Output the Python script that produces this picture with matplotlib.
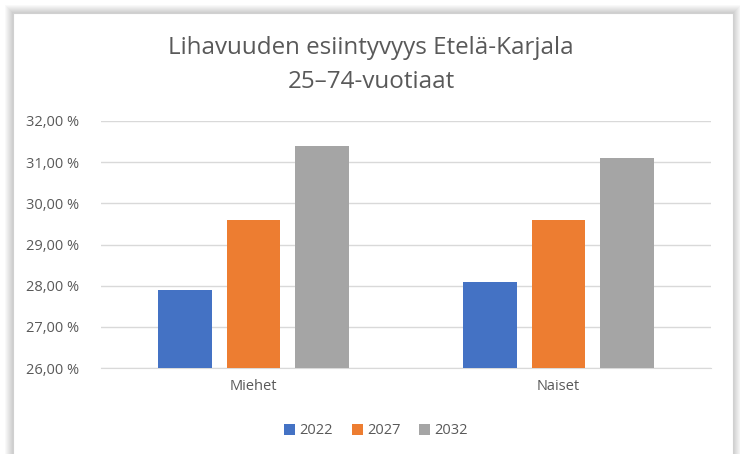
import matplotlib
matplotlib.use("Agg")
import matplotlib.pyplot as plt
import numpy as np
from matplotlib.patches import Rectangle

plt.rcParams['font.family'] = ['Open Sans', 'DejaVu Sans']

categories = ["Miehet", "Naiset"]
series_names = ["2022", "2027", "2032"]
values_2022 = [27.9, 28.1]
values_2027 = [29.6, 29.6]
values_2032 = [31.4, 31.1]
colors = ["#4472C4", "#ED7D31", "#A5A5A5"]
yticks = [26, 27, 28, 29, 30, 31, 32]
ytick_labels = ["26,00 %", "27,00 %", "28,00 %", "29,00 %", "30,00 %", "31,00 %", "32,00 %"]

W, H = 740, 454
fig = plt.figure(figsize=(7.4, 4.54), dpi=100)

# soft shadow around the chart frame
for k in range(8, 0, -1):
    sh = Rectangle(((13 - k) / W, (-10) / H), (720 + 2 * k) / W, (454 - 13 + 10 + k) / H,
                   transform=fig.transFigure, facecolor="#000000", alpha=0.025,
                   edgecolor="none", zorder=-3)
    fig.patches.append(sh)
frame = Rectangle((13 / W, -10 / H), 720 / W, (454 - 13 + 10) / H, transform=fig.transFigure,
                  facecolor="white", edgecolor="#d0d0d0", linewidth=0.8, zorder=-1)
fig.patches.append(frame)

ax = fig.add_axes([101 / W, (454 - 368) / H, (711 - 101) / W, (368 - 121) / H])
ax.set_facecolor("none")
x = np.arange(len(categories))
bw = 0.177
step = 0.223
series = [values_2022, values_2027, values_2032]
for i, (vals, name, c) in enumerate(zip(series, series_names, colors)):
    ax.bar(x + (i - 1) * step, np.array(vals) - 26, bottom=26, width=bw,
           color=c, label=name, zorder=3)

ax.set_ylim(26, 32)
ax.set_xlim(-0.5, 1.5)
ax.set_yticks(yticks)
ax.set_yticklabels(ytick_labels)
ax.set_xticks(x)
ax.set_xticklabels(categories)
ax.grid(axis="y", color="#d9d9d9", linewidth=1, zorder=0)
for s in ["top", "right", "left"]:
    ax.spines[s].set_visible(False)
ax.spines["bottom"].set_color("#d9d9d9")
ax.spines["bottom"].set_zorder(1)
ax.tick_params(axis="y", length=0, labelsize=10.5, labelcolor="#595959", pad=16)
ax.tick_params(axis="x", length=0, labelsize=10.5, labelcolor="#595959", pad=8)

fig.text(371 / W, 1 - 65 / H, "Lihavuuden esiintyvyys Etelä-Karjala\n25–74-vuotiaat",
         ha="center", va="center", fontsize=17.4, color="#595959", linespacing=1.5)

leg = fig.legend(loc="center", bbox_to_anchor=(376 / W, 1 - 431 / H), ncol=3, frameon=False,
                 fontsize=10.5, handlelength=0.75, handleheight=0.75, handletextpad=0.3,
                 columnspacing=1.3, labelcolor="#595959")

fig.savefig("out.png", dpi=100)
